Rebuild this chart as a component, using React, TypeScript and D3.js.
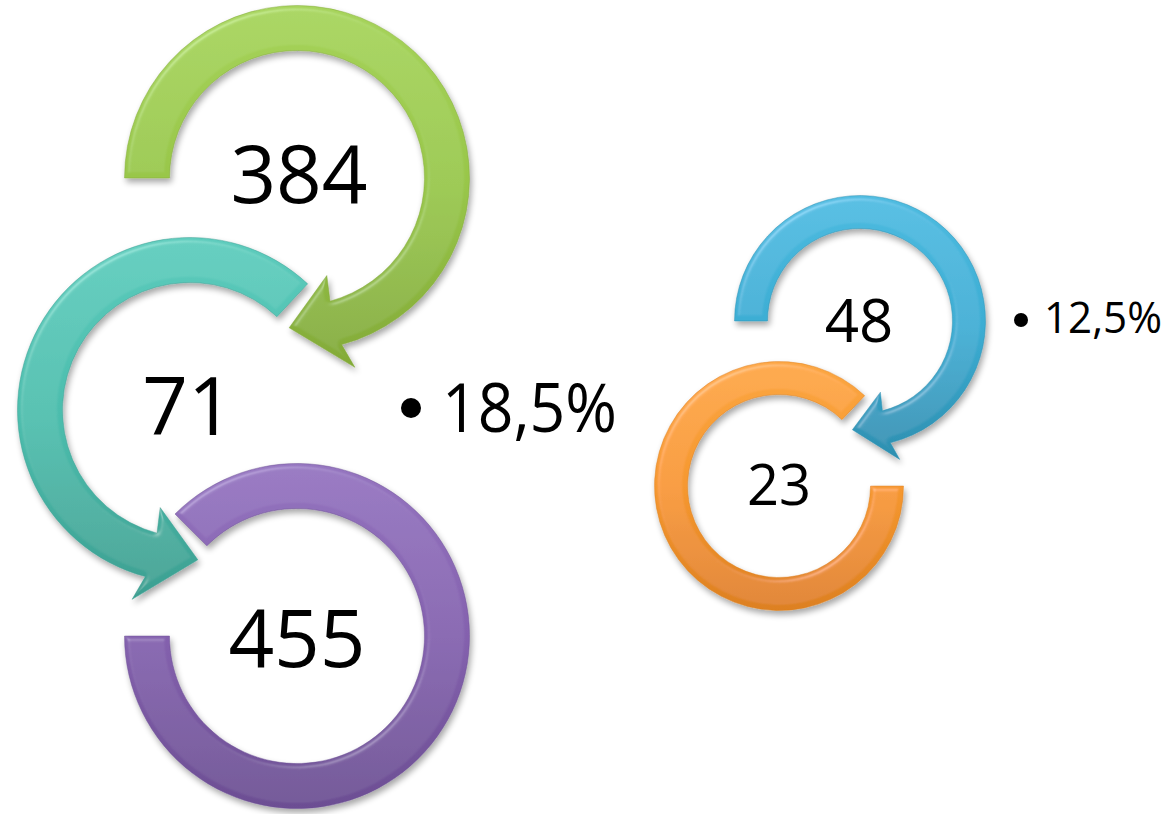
import React from "react";
import * as d3 from "d3";

// ---- data ----
const leftValues = ["384", "71", "455"];
const rightValues = ["48", "23"];
const percentLabels = ["18,5%", "12,5%"];

// ---- geometry (layout only) ----
type Shape = {
  cx: number; cy: number; r: number; w: number;
  a0: number; a1: number; // degrees, clockwise from 12 o'clock
  dir: 1 | -1; head: boolean; headLen: number; headHW: number;
  color: [string, string, string];
};
const deg = Math.PI / 180;

const leftShapes: Shape[] = [
  { cx: 297, cy: 178, r: 150, w: 45, a0: -90, a1: 165, dir: 1, head: true, headLen: 18, headHW: 48, color: ["#a6d35a", "#98c649", "#83aa38"] },
  { cx: 190, cy: 410, r: 150, w: 45, a0: 43, a1: -165, dir: -1, head: true, headLen: 18, headHW: 48, color: ["#5ccbbc", "#4cbdad", "#3c9f91"] },
  { cx: 297, cy: 636, r: 150, w: 45, a0: -45, a1: 270, dir: 1, head: false, headLen: 0, headHW: 0, color: ["#9474bf", "#8461ae", "#6c4e93"] },
];
const rightShapes: Shape[] = [
  { cx: 860, cy: 321, r: 109, w: 33, a0: -90, a1: 166, dir: 1, head: true, headLen: 18, headHW: 35, color: ["#4dbbe0", "#3cadd3", "#2d8fb0"] },
  { cx: 779, cy: 486, r: 108, w: 33, a0: 90, a1: 403.5, dir: 1, head: false, headLen: 0, headHW: 0, color: ["#fba641", "#f69830", "#dd8020"] },
];

function pt(cx: number, cy: number, r: number, a: number): [number, number] {
  return [cx + r * Math.sin(a * deg), cy - r * Math.cos(a * deg)];
}

function shapePath(s: Shape): string {
  const ro = s.r + s.w / 2;
  const ri = s.r - s.w / 2;
  const p = d3.path();
  const th = (a: number) => (a - 90) * deg; // d3.path angle
  const ccw = s.dir === -1;
  const s0 = pt(s.cx, s.cy, ro, s.a0);
  p.moveTo(s0[0], s0[1]);
  p.arc(s.cx, s.cy, ro, th(s.a0), th(s.a1), ccw);
  if (s.head) {
    const f1 = pt(s.cx, s.cy, s.r + s.headHW, s.a1 - s.dir * 2);
    const tip = pt(s.cx, s.cy, s.r, s.a1 + s.dir * s.headLen);
    const f2 = pt(s.cx, s.cy, s.r - s.headHW, s.a1 - s.dir * 2);
    const i1 = pt(s.cx, s.cy, ri, s.a1);
    p.lineTo(f1[0], f1[1]);
    p.lineTo(tip[0], tip[1]);
    p.lineTo(f2[0], f2[1]);
    p.lineTo(i1[0], i1[1]);
  } else {
    const i1 = pt(s.cx, s.cy, ri, s.a1);
    p.lineTo(i1[0], i1[1]);
  }
  p.arc(s.cx, s.cy, ri, th(s.a1), th(s.a0), !ccw);
  p.closePath();
  return p.toString();
}

const FONT = "'Open Sans', 'Liberation Sans', sans-serif";

export default function App() {
  const shapes = [...leftShapes, ...rightShapes];
  const drawOrder = [2, 1, 0, 4, 3];
  const leftText = [
    { x: 299, y: 203, size: 80 },
    { x: 188, y: 435, size: 80 },
    { x: 297, y: 667, size: 80 },
  ];
  const rightText = [
    { x: 859, y: 342, size: 60 },
    { x: 779, y: 505, size: 56 },
  ];
  const pctText = [
    { bx: 411, by: 408, br: 10, x: 442, y: 432, size: 68, len: 175 },
    { bx: 1021, by: 320, br: 7, x: 1044, y: 333, size: 43, len: 118 },
  ];
  return (
    <svg width={1176} height={814} style={{ position: "absolute", left: 0, top: 0, background: "#fff" }}>
      <defs>
        <filter id="fx" x="-20%" y="-20%" width="140%" height="140%">
          <feGaussianBlur in="SourceAlpha" stdDeviation="2.5" result="blur" />
          <feSpecularLighting in="blur" surfaceScale="4" specularConstant="0.5" specularExponent="20" lightingColor="#ffffff" result="spec">
            <feDistantLight azimuth="235" elevation="42" />
          </feSpecularLighting>
          <feComposite in="spec" in2="SourceAlpha" operator="in" result="specIn" />
          <feComposite in="SourceGraphic" in2="specIn" operator="arithmetic" k1="0" k2="1" k3="0.35" k4="0" result="lit" />
          <feGaussianBlur in="SourceAlpha" stdDeviation="3" result="sb" />
          <feOffset in="sb" dx="2" dy="4" result="so" />
          <feComponentTransfer in="so" result="sh">
            <feFuncA type="linear" slope="0.35" />
          </feComponentTransfer>
          <feMerge>
            <feMergeNode in="sh" />
            <feMergeNode in="lit" />
          </feMerge>
        </filter>
        {shapes.map((s, i) => (
          <linearGradient key={i} id={`g${i}`} x1="0" y1="0" x2="0" y2="1">
            <stop offset="0" stopColor={s.color[0]} />
            <stop offset="0.5" stopColor={s.color[1]} />
            <stop offset="1" stopColor={s.color[2]} />
          </linearGradient>
        ))}
      </defs>
      {drawOrder.map((i) => (
        <path key={i} d={shapePath(shapes[i])} fill={`url(#g${i})`} stroke={shapes[i].color[2]} strokeOpacity={0.6} strokeWidth={0.8} filter="url(#fx)" />
      ))}
      {leftValues.map((v, i) => (
        <text key={"l" + i} x={leftText[i].x} y={leftText[i].y} textAnchor="middle" fontFamily={FONT} fontSize={leftText[i].size} fill="#000">{v}</text>
      ))}
      {rightValues.map((v, i) => (
        <text key={"r" + i} x={rightText[i].x} y={rightText[i].y} textAnchor="middle" fontFamily={FONT} fontSize={rightText[i].size} fill="#000">{v}</text>
      ))}
      {percentLabels.map((v, i) => (
        <g key={"p" + i}>
          <circle cx={pctText[i].bx} cy={pctText[i].by} r={pctText[i].br} fill="#000" />
          <text x={pctText[i].x} y={pctText[i].y} fontFamily={FONT} fontSize={pctText[i].size} textLength={pctText[i].len} lengthAdjust="spacingAndGlyphs" fill="#000">{v}</text>
        </g>
      ))}
    </svg>
  );
}
